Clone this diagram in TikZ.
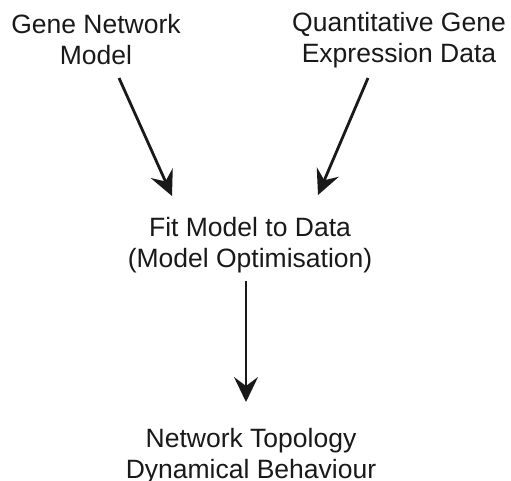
\documentclass[tikz,border=0pt]{standalone}
\usepackage{fontspec}
\setmainfont{Liberation Sans}
\usetikzlibrary{arrows.meta}
\begin{document}
\begin{tikzpicture}[x=1pt,y=-1pt,
  label/.style={align=center,inner sep=0pt,text=black!90,font=\fontsize{26.5}{31}\selectfont},
  flow/.style={line width=2.8pt,draw=black!90,-{Stealth[length=25pt,width=24pt,inset=9pt]}}]
  \useasboundingbox (0,0) rectangle (511,480);
  \node[label] (model) at (96,40) {Gene Network\\Model};
  \node[label] (data) at (399,40) {Quantitative Gene\\Expression Data};
  \node[label] (fit) at (250,245) {Fit Model to Data\\(Model Optimisation)};
  \node[label] (out) at (251,456) {Network Topology\\Dynamical Behaviour};
  \coordinate (modelEnd) at (119,78);
  \coordinate (modelTip) at (172,196);
  \coordinate (dataEnd) at (368,78);
  \coordinate (dataTip) at (318,195);
  \coordinate (fitEnd) at (246,281);
  \coordinate (fitTip) at (246,402);
  \draw[flow] (modelEnd) -- (modelTip);
  \draw[flow] (dataEnd) -- (dataTip);
  \draw[flow] (fitEnd) -- (fitTip);
\end{tikzpicture}
\end{document}
